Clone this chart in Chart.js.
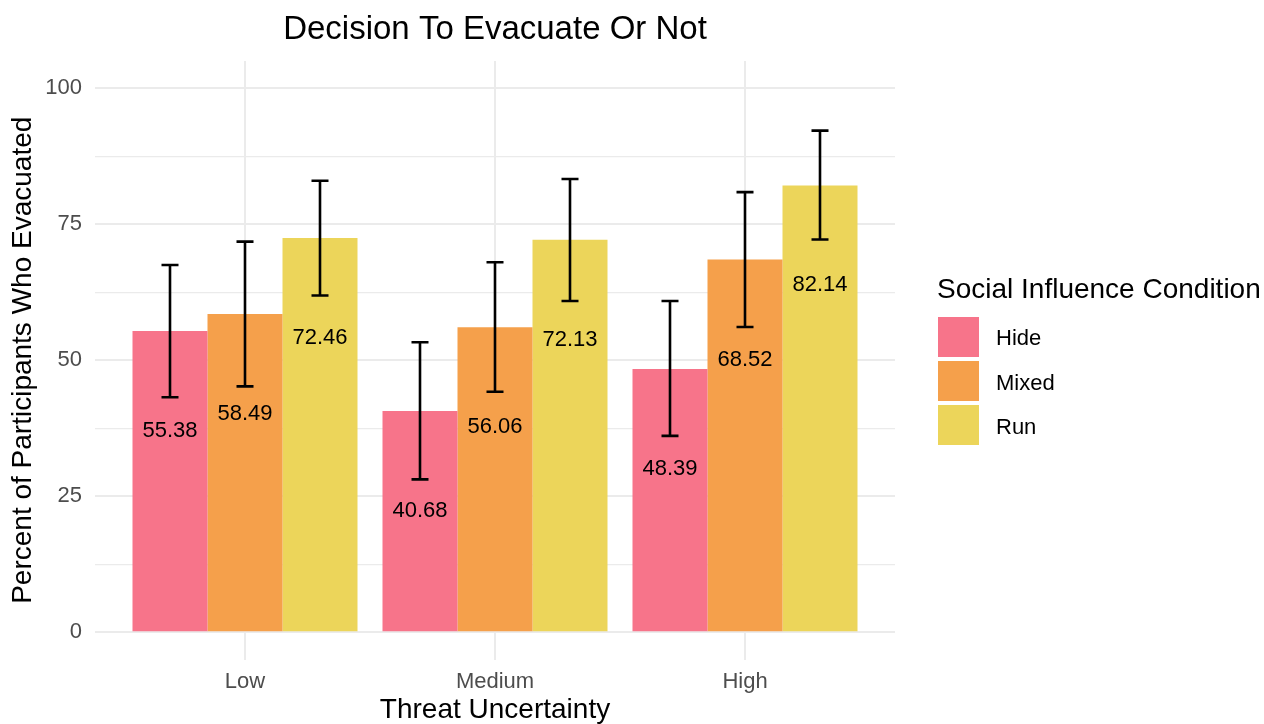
<!DOCTYPE html>
<html>
<head>
<meta charset="utf-8">
<script src="https://cdn.jsdelivr.net/npm/chart.js@4/dist/chart.umd.min.js"></script>
<style>
  html, body { margin: 0; padding: 0; background: #ffffff; }
  #wrap { position: relative; width: 1264px; height: 724px; overflow: hidden; }
  #chart { position: absolute; left: 0; top: 0; }
  #legend { position: absolute; left: 937px; top: 0; font-family: 'Liberation Sans', Arial, sans-serif; color: #000; }
  #legend .lt { position: absolute; left: 0; top: 275px; font-size: 28px; line-height: 28px; white-space: nowrap; }
  #legend .item { position: absolute; left: 1px; height: 40px; display: flex; align-items: center; white-space: nowrap; }
  #legend .sw { width: 41px; height: 40px; margin-right: 17px; }
  #legend .lb { font-size: 22px; line-height: 40px; padding-top: 3px; }
</style>
</head>
<body>
<div id="wrap">
  <canvas id="chart" width="1264" height="724"></canvas>
  <div id="legend"></div>
</div>
<script>
// ---- Data ----
const categories = ['Low', 'Medium', 'High'];
const seriesNames = ['Hide', 'Mixed', 'Run'];
const hideValues = [55.38, 40.68, 48.39];
const mixedValues = [58.49, 56.06, 68.52];
const runValues = [72.46, 72.13, 82.14];
const hideLower = [43.2, 28.1, 36.1];
const hideUpper = [67.5, 53.3, 60.9];
const mixedLower = [45.2, 44.2, 56.1];
const mixedUpper = [71.8, 68.0, 80.9];
const runLower = [61.9, 60.9, 72.2];
const runUpper = [83.0, 83.3, 92.2];
const yTickValues = [0, 12.5, 25, 37.5, 50, 62.5, 75, 87.5, 100];

// ---- Styles ----
const seriesColors = ['#F7748A', '#F5A04B', '#ECD55A'];
const FONT = "'Liberation Sans', Arial, Helvetica, sans-serif";

const seriesValues = [hideValues, mixedValues, runValues];
const seriesLower = [hideLower, mixedLower, runLower];
const seriesUpper = [hideUpper, mixedUpper, runUpper];

const datasets = seriesNames.map((name, s) => ({
  label: name,
  data: categories.map((c, i) => ({ x: i + 1, y: seriesValues[s][i] })),
  lower: seriesLower[s],
  upper: seriesUpper[s],
  backgroundColor: seriesColors[s],
  borderWidth: 0,
  categoryPercentage: 0.9,
  barPercentage: 1.0
}));

const errorAndLabelPlugin = {
  id: 'errorAndLabel',
  afterDatasetsDraw(chart) {
    const ctx = chart.ctx;
    const yScale = chart.scales.y;
    ctx.save();
    chart.data.datasets.forEach((ds, di) => {
      const meta = chart.getDatasetMeta(di);
      meta.data.forEach((el, i) => {
        ctx.fillStyle = '#000000';
        ctx.font = '22px ' + FONT;
        ctx.textAlign = 'center';
        ctx.textBaseline = 'middle';
        ctx.fillText(ds.data[i].y.toFixed(2), el.x, el.y + 100);
      });
    });
    chart.data.datasets.forEach((ds, di) => {
      const meta = chart.getDatasetMeta(di);
      meta.data.forEach((el, i) => {
        const yt = yScale.getPixelForValue(ds.upper[i]);
        const yb = yScale.getPixelForValue(ds.lower[i]);
        const x = el.x;
        const hw = 8.5;
        ctx.strokeStyle = '#000000';
        ctx.lineWidth = 2.6;
        ctx.lineCap = 'butt';
        ctx.beginPath();
        ctx.moveTo(x, yt); ctx.lineTo(x, yb);
        ctx.moveTo(x - hw, yt); ctx.lineTo(x + hw, yt);
        ctx.moveTo(x - hw, yb); ctx.lineTo(x + hw, yb);
        ctx.stroke();
      });
    });
    ctx.restore();
  }
};

const chart = new Chart(document.getElementById('chart'), {
  type: 'bar',
  data: { datasets },
  options: {
    responsive: false,
    devicePixelRatio: 1,
    animation: false,
    layout: { padding: { left: 0, right: 369, top: 0, bottom: 0 } },
    plugins: {
      legend: { display: false },
      tooltip: { enabled: false },
      title: {
        display: true,
        text: 'Decision To Evacuate Or Not',
        fullSize: false,
        color: '#000000',
        font: { family: FONT, size: 33, weight: 'normal', lineHeight: 1.2 },
        padding: { top: 10, bottom: 11.4 }
      }
    },
    scales: {
      x: {
        type: 'linear',
        min: 0.4,
        max: 3.6,
        offset: false,
        afterBuildTicks: (scale) => { scale.ticks = categories.map((c, i) => ({ value: i + 1 })); },
        afterFit: (scale) => { scale.height = 64.5; },
        ticks: {
          callback: (v) => categories[Math.round(v) - 1] || '',
          color: '#4d4d4d',
          font: { family: FONT, size: 22, lineHeight: 1.2 },
          padding: 9,
          maxRotation: 0,
          autoSkip: false
        },
        grid: { color: '#ebebeb', lineWidth: 2, drawTicks: false, offset: false },
        border: { display: false },
        title: {
          display: true,
          text: 'Threat Uncertainty',
          color: '#000000',
          font: { family: FONT, size: 28, lineHeight: 1.0 },
          padding: { top: 0, bottom: 0 }
        }
      },
      y: {
        min: -5,
        max: 105,
        afterBuildTicks: (scale) => { scale.ticks = yTickValues.map(v => ({ value: v })); },
        afterFit: (scale) => { scale.width = 95; },
        ticks: {
          callback: (v) => (v % 25 === 0 ? String(v) : ''),
          color: '#4d4d4d',
          font: { family: FONT, size: 22 },
          padding: 13,
          autoSkip: false
        },
        grid: {
          color: '#ebebeb',
          lineWidth: (c) => (c.tick && c.tick.value % 25 === 0 ? 2 : 1.3),
          drawTicks: false
        },
        border: { display: false },
        title: {
          display: true,
          text: 'Percent of Participants Who Evacuated',
          color: '#000000',
          font: { family: FONT, size: 28, lineHeight: 1.2 },
          padding: { top: 6, bottom: 0 }
        }
      }
    }
  },
  plugins: [errorAndLabelPlugin]
});

// ---- Legend (HTML, built from series arrays) ----
const legend = document.getElementById('legend');
const lt = document.createElement('div');
lt.className = 'lt';
lt.textContent = 'Social Influence Condition';
legend.appendChild(lt);
seriesNames.forEach((name, i) => {
  const item = document.createElement('div');
  item.className = 'item';
  item.style.top = (316.7 + i * 44.3) + 'px';
  const sw = document.createElement('div');
  sw.className = 'sw';
  sw.style.background = seriesColors[i];
  const lb = document.createElement('div');
  lb.className = 'lb';
  lb.textContent = name;
  item.appendChild(sw);
  item.appendChild(lb);
  legend.appendChild(item);
});
</script>
</body>
</html>
